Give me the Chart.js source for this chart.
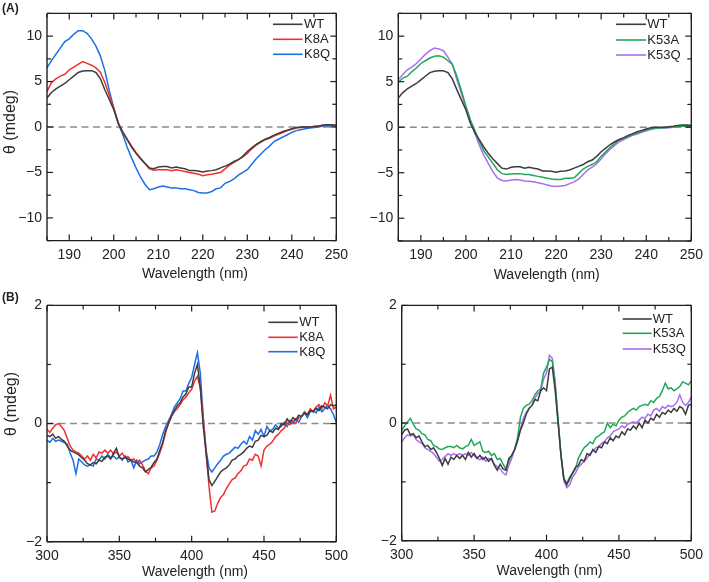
<!DOCTYPE html>
<html>
<head>
<meta charset="utf-8">
<script src="https://cdn.jsdelivr.net/npm/chart.js@4.4.0/dist/chart.umd.min.js"></script>
<style>
  body { margin: 0; background: #fff; }
  #wrap { position: relative; width: 709px; height: 582px; overflow: hidden; }
  canvas { position: absolute; }
</style>
</head>
<body>
<div id="wrap">
  <canvas id="a1" width="354" height="292" style="left:0px;top:0px"></canvas>
  <canvas id="a2" width="355" height="292" style="left:354px;top:0px"></canvas>
  <canvas id="b1" width="354" height="290" style="left:0px;top:292px"></canvas>
  <canvas id="b2" width="355" height="290" style="left:354px;top:292px"></canvas>
</div>
<script>
// Far-UV CD (panel A), wavelength in nm
const waveA = [185, 186, 187, 188, 189, 190, 191, 192, 193, 194,
  195, 196, 197, 198, 199, 200, 201, 202, 203, 204,
  205, 206, 207, 208, 209, 210, 211, 212, 213, 214,
  215, 216, 217, 218, 219, 220, 221, 222, 223, 224,
  225, 226, 227, 228, 229, 230, 231, 232, 233, 234,
  235, 236, 237, 238, 239, 240, 241, 242, 243, 244,
  245, 246, 247, 248, 249, 250];

const wtA = [3.2, 3.8, 4.2, 4.5, 4.8, 5.2, 5.6, 6.0, 6.15, 6.2,
  6.2, 6.0, 5.3, 4.1, 3.0, 1.9, 0.4, -0.6, -1.4, -2.2,
  -2.9, -3.5, -4.0, -4.5, -4.6, -4.4, -4.35, -4.35, -4.5, -4.4,
  -4.5, -4.6, -4.8, -4.8, -4.85, -4.95, -4.85, -4.8, -4.7, -4.5,
  -4.3, -4.1, -3.8, -3.6, -3.2, -2.7, -2.3, -1.9, -1.6, -1.35,
  -1.15, -0.9, -0.7, -0.5, -0.35, -0.2, -0.05, 0, 0, 0,
  0.05, 0.1, 0.2, 0.25, 0.25, 0.2];

const k8aA = [3.9, 4.9, 5.3, 5.6, 5.8, 6.3, 6.6, 6.9, 7.2, 7.0,
  6.8, 6.5, 6.0, 4.9, 3.5, 2.1, 0.5, -0.5, -1.3, -2.1,
  -2.8, -3.4, -4.0, -4.6, -4.75, -4.7, -4.7, -4.7, -4.8, -4.7,
  -4.8, -4.9, -5.0, -5.1, -5.2, -5.35, -5.25, -5.2, -5.1, -5.0,
  -4.6, -4.2, -3.9, -3.6, -3.3, -2.9, -2.4, -2.0, -1.7, -1.4,
  -1.25, -1.0, -0.8, -0.6, -0.4, -0.25, -0.1, -0.05, 0, 0,
  0.05, 0.1, 0.2, 0.25, 0.2, 0.15];

const k8qA = [6.5, 7.3, 8.0, 8.7, 9.4, 9.7, 10.2, 10.6, 10.6, 10.3,
  9.7, 8.9, 7.8, 6.2, 4.0, 2.1, 0.4, -0.8, -2.2, -3.4,
  -4.5, -5.5, -6.3, -6.9, -6.8, -6.6, -6.5, -6.6, -6.7, -6.7,
  -6.8, -6.8, -6.9, -7.0, -7.2, -7.25, -7.25, -7.1, -6.8, -6.7,
  -6.2, -6.0, -5.7, -5.3, -5.0, -4.7, -4.1, -3.5, -3.0, -2.5,
  -2.1, -1.6, -1.35, -1.1, -0.85, -0.6, -0.4, -0.3, -0.2, -0.1,
  -0.05, 0, 0.1, 0.15, 0.15, 0.15];

const k53aA = [4.9, 5.4, 5.6, 6.1, 6.5, 7.0, 7.3, 7.6, 7.8, 7.85,
  7.7, 7.3, 6.9, 5.6, 4.0, 2.3, 0.8, -0.4, -1.6, -2.6,
  -3.3, -4.0, -4.7, -5.1, -5.2, -5.15, -5.1, -5.1, -5.2, -5.2,
  -5.3, -5.4, -5.5, -5.6, -5.7, -5.75, -5.75, -5.6, -5.6, -5.55,
  -5.1, -4.6, -4.3, -4.1, -3.8, -3.2, -2.7, -2.2, -1.8, -1.4,
  -1.2, -1.0, -0.8, -0.6, -0.45, -0.3, -0.15, -0.1, -0.1, -0.05,
  0, 0.05, 0.1, 0.1, 0.1, 0.1];

const k53qA = [5.2, 5.8, 6.3, 6.6, 7.0, 7.5, 8.0, 8.4, 8.7, 8.6,
  8.4, 7.7, 6.9, 5.2, 3.7, 2.2, 0.7, -0.7, -2.0, -3.1,
  -4.0, -4.9, -5.6, -5.85, -5.9, -5.8, -5.75, -5.8, -5.9, -5.95,
  -6.0, -6.1, -6.2, -6.35, -6.45, -6.5, -6.45, -6.4, -6.2, -6.0,
  -5.7, -5.2, -4.7, -4.4, -4.0, -3.5, -2.9, -2.4, -2.0, -1.6,
  -1.35, -1.1, -0.9, -0.75, -0.55, -0.4, -0.25, -0.15, -0.1, -0.1,
  -0.05, 0, 0.1, 0.15, 0.2, 0.2];

// Soret-region CD (panel B), wavelength in nm
const waveB = [300, 302, 304, 306, 308, 310, 312, 314, 316, 318,
  320, 322, 324, 326, 328, 330, 332, 334, 336, 338,
  340, 342, 344, 346, 348, 350, 352, 354, 356, 358,
  360, 362, 364, 366, 368, 370, 372, 374, 376, 378,
  380, 382, 384, 386, 388, 390, 392, 394, 396, 398,
  400, 402, 404, 406, 408, 410, 412, 414, 416, 418,
  420, 422, 424, 426, 428, 430, 432, 434, 436, 438,
  440, 442, 444, 446, 448, 450, 452, 454, 456, 458,
  460, 462, 464, 466, 468, 470, 472, 474, 476, 478,
  480, 482, 484, 486, 488, 490, 492, 494, 496, 498,
  500];

const wtB1 = [-0.2, -0.22, -0.18, -0.25, -0.22, -0.27, -0.3, -0.38, -0.45, -0.48,
  -0.5, -0.53, -0.58, -0.62, -0.68, -0.7, -0.66, -0.68, -0.62, -0.64,
  -0.57, -0.55, -0.6, -0.5, -0.42, -0.58, -0.6, -0.57, -0.6, -0.62,
  -0.65, -0.66, -0.72, -0.75, -0.82, -0.78, -0.74, -0.66, -0.6, -0.45,
  -0.32, -0.12, 0.0, 0.12, 0.22, 0.3, 0.35, 0.45, 0.5, 0.62,
  0.62, 0.85, 1.0, 0.6, -0.05, -0.5, -0.95, -1.05, -0.98, -0.9,
  -0.82, -0.78, -0.75, -0.7, -0.62, -0.6, -0.55, -0.52, -0.48, -0.42,
  -0.38, -0.4, -0.3, -0.28, -0.2, -0.22, -0.2, -0.12, -0.15, -0.08,
  -0.1, 0.0, -0.02, 0.08, 0.02, 0.1, 0.06, 0.14, 0.12, 0.18,
  0.15, 0.22, 0.2, 0.26, 0.22, 0.3, 0.28, 0.25, 0.32, 0.3,
  0.32];

const k8aB = [-0.1, -0.15, -0.08, -0.02, 0.0, -0.05, -0.12, -0.25, -0.38, -0.45,
  -0.48, -0.5, -0.55, -0.6, -0.55, -0.62, -0.52, -0.58, -0.48, -0.5,
  -0.45, -0.5, -0.45, -0.52, -0.48, -0.55, -0.5, -0.58, -0.56, -0.62,
  -0.6, -0.66, -0.62, -0.7, -0.8, -0.85, -0.75, -0.72, -0.62, -0.5,
  -0.35, -0.15, 0.0, 0.12, 0.2, 0.25, 0.32, 0.4, 0.45, 0.52,
  0.58, 0.72, 0.8, 0.6, 0.1, -0.5, -1.07, -1.5, -1.48, -1.35,
  -1.25, -1.2, -1.1, -1.02, -0.95, -0.92, -0.85, -0.8, -0.72, -0.7,
  -0.6, -0.62, -0.52, -0.55, -0.72, -0.45, -0.38, -0.35, -0.3, -0.22,
  -0.18, -0.12, -0.08, 0.02, -0.02, 0.05, 0.0, 0.1, 0.12, 0.2,
  0.15, 0.25, 0.2, 0.28, 0.32, 0.25, 0.35, 0.3, 0.48, 0.25,
  0.28];

const k8qB = [-0.28, -0.32, -0.25, -0.3, -0.28, -0.3, -0.32, -0.35, -0.5, -0.62,
  -0.85, -0.6, -0.65, -0.7, -0.72, -0.7, -0.72, -0.6, -0.62, -0.55,
  -0.6, -0.52, -0.58, -0.55, -0.6, -0.56, -0.62, -0.55, -0.65, -0.62,
  -0.75, -0.62, -0.68, -0.65, -0.62, -0.6, -0.55, -0.55, -0.48, -0.35,
  -0.18, -0.05, 0.05, 0.15, 0.28, 0.35, 0.42, 0.55, 0.55, 0.68,
  0.78, 1.0, 1.2, 0.85, 0.1, -0.45, -0.75, -0.82, -0.75, -0.68,
  -0.62, -0.55, -0.52, -0.5, -0.45, -0.4, -0.42, -0.35, -0.3, -0.35,
  -0.22, -0.28, -0.12, -0.18, -0.1, -0.22, -0.05, -0.12, -0.1, -0.02,
  -0.08, -0.05, 0.02, -0.05, 0.05, 0.0, 0.08, 0.02, 0.12, 0.18,
  0.1, 0.2, 0.22, 0.18, 0.28, 0.2, 0.25, 0.3, 0.25, 0.15,
  0.02];

const wtB2 = [-0.2, -0.12, -0.1, -0.2, -0.18, -0.25, -0.22, -0.32, -0.4, -0.38,
  -0.45, -0.42, -0.5, -0.6, -0.72, -0.6, -0.7, -0.58, -0.62, -0.55,
  -0.6, -0.55, -0.62, -0.5, -0.58, -0.52, -0.6, -0.55, -0.62, -0.58,
  -0.65, -0.6, -0.72, -0.8, -0.7, -0.78, -0.8, -0.6, -0.55, -0.45,
  -0.3, -0.12, 0.0, 0.15, 0.25, 0.3, 0.4, 0.38, 0.55, 0.6,
  0.55, 0.92, 0.95, 0.55, 0.0, -0.55, -0.95, -1.05, -0.95, -0.85,
  -0.75, -0.72, -0.62, -0.65, -0.52, -0.55, -0.45, -0.5, -0.4, -0.42,
  -0.32, -0.35, -0.25, -0.3, -0.22, -0.25, -0.15, -0.2, -0.1, -0.12,
  -0.05, -0.1, 0.0, -0.08, 0.05, 0.0, 0.08, 0.05, 0.15, 0.1,
  0.18, 0.15, 0.22, 0.18, 0.25, 0.2, 0.28, 0.25, 0.15, 0.3,
  0.32];

const k53aB = [-0.12, -0.05, 0.02, 0.08, -0.02, -0.1, -0.12, -0.18, -0.2, -0.28,
  -0.3, -0.38, -0.4, -0.44, -0.45, -0.42, -0.4, -0.4, -0.42, -0.38,
  -0.42, -0.44, -0.4, -0.38, -0.28, -0.38, -0.35, -0.32, -0.48, -0.5,
  -0.48, -0.55, -0.52, -0.62, -0.6, -0.7, -0.78, -0.65, -0.55, -0.45,
  -0.25, 0.1, 0.25, 0.3, 0.32, 0.38, 0.48, 0.55, 0.58, 0.85,
  0.95, 1.08, 1.05, 0.65, 0.05, -0.55, -0.95, -1.02, -0.92, -0.85,
  -0.78, -0.6, -0.5, -0.42, -0.38, -0.32, -0.35, -0.25, -0.22, -0.18,
  -0.15, 0.0, -0.08, -0.02, -0.05, 0.05, 0.1, 0.12, 0.18, 0.22,
  0.25, 0.22, 0.28, 0.3, 0.32, 0.3, 0.38, 0.35, 0.42, 0.45,
  0.55, 0.68, 0.58, 0.6, 0.55, 0.58, 0.62, 0.7, 0.68, 0.65,
  0.72];

const k53qB = [-0.32, -0.25, -0.2, -0.22, -0.2, -0.28, -0.32, -0.35, -0.42, -0.45,
  -0.48, -0.52, -0.58, -0.65, -0.62, -0.57, -0.52, -0.55, -0.52, -0.55,
  -0.52, -0.55, -0.52, -0.55, -0.5, -0.55, -0.6, -0.62, -0.58, -0.65,
  -0.6, -0.62, -0.7, -0.74, -0.78, -0.85, -0.88, -0.72, -0.6, -0.45,
  -0.3, -0.1, 0.08, 0.18, 0.25, 0.3, 0.42, 0.5, 0.55, 0.75,
  0.85, 1.15, 1.1, 0.7, 0.05, -0.55, -0.98, -1.1, -1.05, -0.92,
  -0.85, -0.75, -0.7, -0.65, -0.6, -0.52, -0.48, -0.42, -0.4, -0.35,
  -0.32, -0.25, -0.22, -0.15, -0.12, -0.1, -0.05, -0.08, -0.02, 0.0,
  0.02, 0.0, 0.05, 0.1, 0.08, 0.15, 0.12, 0.22, 0.25, 0.2,
  0.28, 0.25, 0.3, 0.28, 0.3, 0.35, 0.48, 0.35, 0.3, 0.35,
  0.45];

const colors = {
  WT: '#3d3d3d',
  K8A: '#f0302e',
  K8Q: '#1d6fe5',
  K53A: '#1fa957',
  K53Q: '#a86df0'
};

const FONT = '"Liberation Sans", Arial, sans-serif';
const minus = v => (v < 0 ? '\u2212' + Math.abs(v) : String(v));

function line(ctx, x0, y0, x1, y1) {
  ctx.beginPath();
  ctx.moveTo(x0, y0);
  ctx.lineTo(x1, y1);
  ctx.stroke();
}

// draws the box, inward ticks, dashed zero line, legend and titles
const framePlugin = {
  id: 'frame',
  beforeDatasetsDraw(chart) {
    const { ctx, chartArea: a, scales: { y } } = chart;
    const y0 = y.getPixelForValue(0);
    ctx.save();
    ctx.strokeStyle = '#8c8c8c';
    ctx.lineWidth = 1.5;
    ctx.setLineDash([7, 4.5]);
    line(ctx, a.left, y0, a.right, y0);
    ctx.restore();
  },
  afterDraw(chart, args, o) {
    const { ctx, chartArea: a, scales: { x, y } } = chart;
    ctx.save();
    ctx.setLineDash([]);
    ctx.strokeStyle = '#1e1e1e';
    ctx.lineWidth = 1.4;
    line(ctx, a.left, a.top, a.right, a.top);
    line(ctx, a.right, a.top, a.right, a.bottom);
    line(ctx, a.right, a.bottom, a.left, a.bottom);
    line(ctx, a.left, a.bottom, a.left, a.top);

    // inward tick marks on all four sides
    ctx.lineWidth = 1.2;
    x.ticks.forEach(t => {
      const px = x.getPixelForValue(t.value);
      const len = t.label !== '' ? 6 : 4;
      line(ctx, px, a.bottom, px, a.bottom - len);
      line(ctx, px, a.top, px, a.top + len);
    });
    y.ticks.forEach(t => {
      const py = y.getPixelForValue(t.value);
      const len = t.label !== '' ? 6 : 4;
      line(ctx, a.left, py, a.left + len, py);
      line(ctx, a.right, py, a.right - len, py);
    });

    // legend
    ctx.font = '13px ' + FONT;
    ctx.textBaseline = 'middle';
    ctx.textAlign = 'left';
    chart.data.datasets.forEach((ds, i) => {
      const ly = o.legend.y[i];
      ctx.strokeStyle = ds.borderColor;
      ctx.lineWidth = 1.6;
      line(ctx, o.legend.x0, ly, o.legend.x1, ly);
      ctx.fillStyle = '#222';
      ctx.fillText(ds.label, o.legend.tx, ly + 0.5);
    });

    // x title
    ctx.fillStyle = '#222';
    ctx.textAlign = 'center';
    ctx.font = '14px ' + FONT;
    ctx.fillText('Wavelength (nm)', o.xTitle[0], o.xTitle[1]);

    // y title
    if (o.yTitle) {
      ctx.save();
      ctx.translate(o.yTitle[0], o.yTitle[1]);
      ctx.rotate(-Math.PI / 2);
      ctx.font = '16px ' + FONT;
      ctx.fillText('\u03B8 (mdeg)', 0, 0);
      ctx.restore();
    }

    // panel letter
    if (o.tag) {
      ctx.textAlign = 'left';
      ctx.font = 'bold 12px ' + FONT;
      ctx.fillText(o.tag[0], o.tag[1], o.tag[2]);
    }
    ctx.restore();
  }
};

function makePanel(id, wave, series, axes, frame) {
  const datasets = series.map(s => ({
    label: s.name,
    data: wave.map((w, i) => ({ x: w, y: s.values[i] })),
    borderColor: colors[s.name],
    borderWidth: 1.5,
    pointRadius: 0,
    tension: 0,
    fill: false
  }));

  return new Chart(document.getElementById(id), {
    type: 'line',
    data: { datasets },
    plugins: [framePlugin],
    options: {
      responsive: false,
      animation: false,
      devicePixelRatio: 1,
      layout: { padding: { top: axes.padTop, right: axes.padRight, left: 0, bottom: 0 } },
      plugins: {
        legend: { display: false },
        tooltip: { enabled: false },
        frame
      },
      scales: {
        x: {
          type: 'linear',
          min: axes.xMin,
          max: axes.xMax,
          grid: { display: false, drawTicks: false },
          border: { display: false },
          ticks: {
            stepSize: axes.xStep,
            autoSkip: false,
            maxRotation: 0,
            padding: 6,
            color: '#222',
            font: { family: FONT, size: 14 },
            callback: v => (v % axes.xLabelEvery === 0 ? String(v) : '')
          },
          afterFit: s => { s.height = axes.xHeight; }
        },
        y: {
          min: axes.yMin,
          max: axes.yMax,
          grid: { display: false, drawTicks: false },
          border: { display: false },
          ticks: {
            stepSize: axes.yStep,
            autoSkip: false,
            padding: 5,
            color: '#222',
            font: { family: FONT, size: 14 },
            callback: v => {
              const r = v / axes.yLabelEvery;
              return Math.abs(r - Math.round(r)) < 1e-6 ? minus(Math.round(v)) : '';
            }
          },
          afterFit: s => { s.width = axes.yWidth; }
        }
      }
    }
  });
}

const axesA = { xMin: 185, xMax: 250, xStep: 5, xLabelEvery: 10,
  yMin: -12.5, yMax: 12.5, yStep: 2.5, yLabelEvery: 5 };
const axesB = { xMin: 300, xMax: 500, xStep: 25, xLabelEvery: 50,
  yMin: -2, yMax: 2, yStep: 1, yLabelEvery: 2 };

makePanel('a1', waveA,
  [{ name: 'WT', values: wtA }, { name: 'K8A', values: k8aA }, { name: 'K8Q', values: k8qA }],
  Object.assign({}, axesA, { padTop: 1.4, padRight: 11, yWidth: 47, xHeight: 51.4 }),
  { legend: { x0: 273, x1: 302.5, tx: 304, y: [24.3, 39.3, 54.3] },
    xTitle: [195, 274], yTitle: [11, 122], tag: ['(A)', 2, 8.5] });

makePanel('a2', waveA,
  [{ name: 'WT', values: wtA }, { name: 'K53A', values: k53aA }, { name: 'K53Q', values: k53qA }],
  Object.assign({}, axesA, { padTop: 2, padRight: 14, yWidth: 44.3, xHeight: 51 }),
  { legend: { x0: 262, x1: 292, tx: 293.3, y: [24.3, 40, 55] },
    xTitle: [192.7, 275], yTitle: null, tag: null });

makePanel('b1', waveB,
  [{ name: 'WT', values: wtB1 }, { name: 'K8A', values: k8aB }, { name: 'K8Q', values: k8qB }],
  Object.assign({}, axesB, { padTop: 10.7, padRight: 11, yWidth: 47, xHeight: 40.3 }),
  { legend: { x0: 268.3, x1: 297.7, tx: 299.3, y: [30.3, 45.3, 59.7] },
    xTitle: [195, 280], yTitle: [12, 112], tag: ['(B)', 2, 6] });

makePanel('b2', waveB,
  [{ name: 'WT', values: wtB2 }, { name: 'K53A', values: k53aB }, { name: 'K53Q', values: k53qB }],
  Object.assign({}, axesB, { padTop: 9.7, padRight: 11.7, yWidth: 47.7, xHeight: 41.3 }),
  { legend: { x0: 268.7, x1: 297.7, tx: 298.7, y: [27, 41.3, 57] },
    xTitle: [195.5, 279], yTitle: null, tag: null });
</script>
</body>
</html>
